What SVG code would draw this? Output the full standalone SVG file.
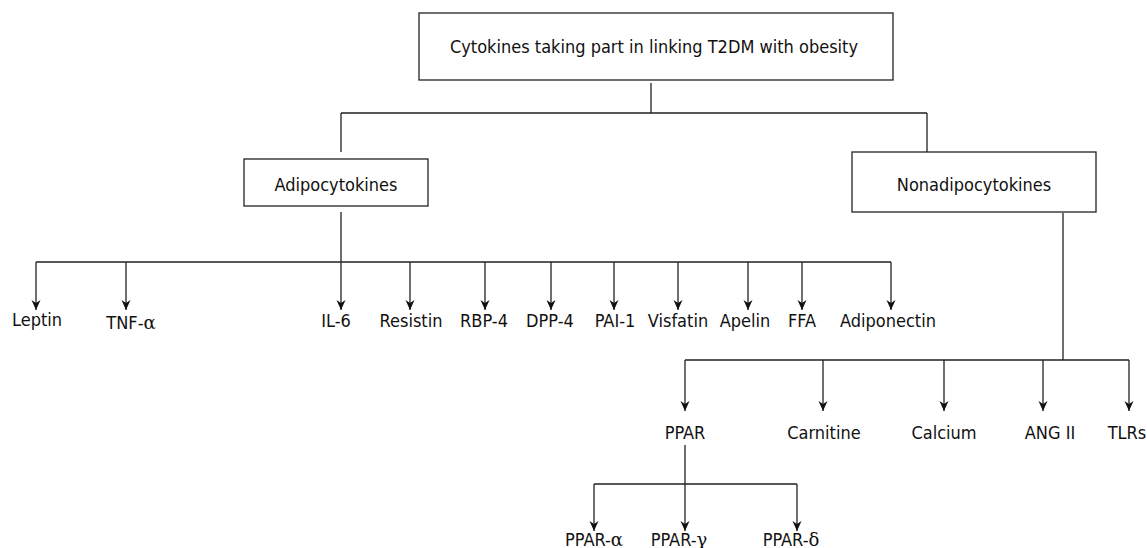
<svg xmlns="http://www.w3.org/2000/svg" width="1147" height="548" viewBox="0 0 1147 548">
<style>
.box{fill:#fff;stroke:#222;stroke-width:1.3}
.ln{fill:none;stroke:#222;stroke-width:1.3}
.ar{fill:none;stroke:#222;stroke-width:1.3;marker-end:url(#ah)}
text{font-family:"DejaVu Sans Condensed","DejaVu Sans",sans-serif;font-size:18px;fill:#111;text-anchor:middle}
.g{font-family:"DejaVu Serif","Liberation Serif",serif}
</style>
<defs>
<marker id="ah" viewBox="0 0 10 10" refX="10" refY="5" markerWidth="10" markerHeight="10" markerUnits="userSpaceOnUse" orient="auto">
<path d="M0,0.5 L10,5 L0,9.5 L3,5 z" fill="#111"/>
</marker>
</defs>
<rect width="1147" height="548" fill="#fff"/>
<g id="connectors">
<path class="ln" d="M651,83 V113 M341,113 H927 M341,113 V152 M927,113 V152"/>
<path class="ln" d="M341,212 V262 M36,262 H891"/>
<path class="ar" d="M36,262 V310"/>
<path class="ar" d="M126,262 V310"/>
<path class="ar" d="M341,262 V310"/>
<path class="ar" d="M410,262 V310"/>
<path class="ar" d="M485,262 V310"/>
<path class="ar" d="M551,262 V310"/>
<path class="ar" d="M614,262 V310"/>
<path class="ar" d="M678,262 V310"/>
<path class="ar" d="M748,262 V310"/>
<path class="ar" d="M802,262 V310"/>
<path class="ar" d="M891,262 V310"/>
<path class="ln" d="M1063,213 V360 M685,360 H1129"/>
<path class="ar" d="M685,360 V411"/>
<path class="ar" d="M823,360 V411"/>
<path class="ar" d="M944,360 V411"/>
<path class="ar" d="M1043,360 V411"/>
<path class="ar" d="M1129,360 V411"/>
<path class="ln" d="M685,445 V484 M594,484 H797"/>
<path class="ar" d="M594,484 V531"/>
<path class="ar" d="M685,484 V531"/>
<path class="ar" d="M797,484 V531"/>
</g>
<g id="root"><rect class="box" x="419" y="13" width="474" height="67"/><text x="654" y="53">Cytokines taking part in linking T2DM with obesity</text></g>
<g id="adipocytokines"><rect class="box" x="244" y="159" width="184" height="47"/><text x="336" y="191">Adipocytokines</text></g>
<g id="nonadipocytokines"><rect class="box" x="852" y="152" width="244" height="60"/><text x="974" y="191">Nonadipocytokines</text></g>
<g id="leptin"><text x="37" y="326">Leptin</text></g>
<g id="tnf"><text x="131" y="329">TNF-<tspan class="g">α</tspan></text></g>
<g id="il6"><text x="336" y="327">IL-6</text></g>
<g id="resistin"><text x="411" y="327">Resistin</text></g>
<g id="rbp4"><text x="484" y="327">RBP-4</text></g>
<g id="dpp4"><text x="550" y="327">DPP-4</text></g>
<g id="pai1"><text x="615" y="327">PAI-1</text></g>
<g id="visfatin"><text x="678" y="327">Visfatin</text></g>
<g id="apelin"><text x="745" y="327">Apelin</text></g>
<g id="ffa"><text x="802" y="327">FFA</text></g>
<g id="adiponectin"><text x="888" y="327">Adiponectin</text></g>
<g id="ppar"><text x="685" y="439">PPAR</text></g>
<g id="carnitine"><text x="824" y="439">Carnitine</text></g>
<g id="calcium"><text x="944" y="439">Calcium</text></g>
<g id="ang2"><text x="1050" y="439">ANG II</text></g>
<g id="tlrs"><text x="1127" y="439">TLRs</text></g>
<g id="ppar-a"><text x="594" y="546">PPAR-<tspan class="g">α</tspan></text></g>
<g id="ppar-g"><text x="679" y="546">PPAR-<tspan class="g">γ</tspan></text></g>
<g id="ppar-d"><text x="791" y="546">PPAR-<tspan class="g">δ</tspan></text></g>
</svg>
